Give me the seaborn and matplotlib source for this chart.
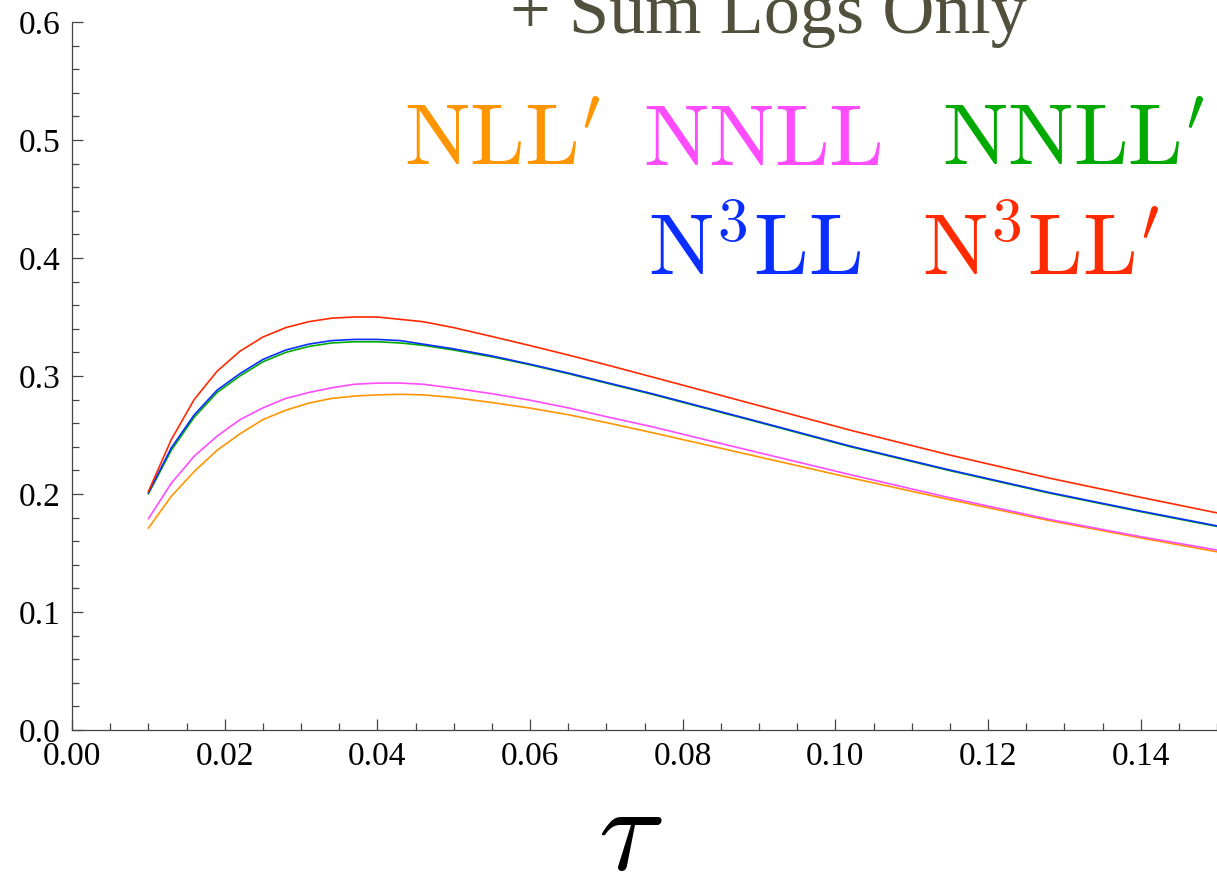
import numpy as np
import pandas as pd
import matplotlib
matplotlib.use("Agg")
import matplotlib.pyplot as plt
from matplotlib.ticker import MultipleLocator, FormatStrFormatter
import seaborn as sns

# ---- data ----
tau = [0.010, 0.013, 0.016, 0.019, 0.022, 0.025, 0.028, 0.031, 0.034, 0.037,
       0.040, 0.043, 0.046, 0.050, 0.055, 0.060, 0.065, 0.070, 0.076, 0.082,
       0.090, 0.102, 0.115, 0.128, 0.140, 0.150]

nll_p = [0.171, 0.198, 0.219, 0.237, 0.251, 0.263, 0.271, 0.277, 0.281, 0.283,
         0.284, 0.2845, 0.284, 0.2818, 0.2775, 0.2728, 0.2672, 0.2605, 0.252, 0.2432,
         0.2314, 0.2137, 0.1952, 0.1775, 0.1628, 0.151]
nnll = [0.179, 0.209, 0.232, 0.249, 0.263, 0.273, 0.281, 0.286, 0.290, 0.293,
        0.294, 0.294, 0.293, 0.2897, 0.285, 0.2795, 0.273, 0.2655, 0.257, 0.2475,
        0.235, 0.2163, 0.1968, 0.1785, 0.1638, 0.1525]
nnll_p = [0.200, 0.237, 0.265, 0.286, 0.300, 0.312, 0.320, 0.325, 0.328, 0.329,
          0.329, 0.328, 0.326, 0.322, 0.3163, 0.3095, 0.302, 0.294, 0.2845, 0.2743,
          0.2607, 0.240, 0.2198, 0.2008, 0.185, 0.1725]
n3ll = [0.201, 0.239, 0.267, 0.288, 0.302, 0.314, 0.322, 0.327, 0.330, 0.331,
        0.331, 0.330, 0.327, 0.323, 0.317, 0.310, 0.3025, 0.2945, 0.285, 0.2748,
        0.2612, 0.2405, 0.2203, 0.2013, 0.1855, 0.173]
n3ll_p = [0.202, 0.246, 0.280, 0.304, 0.321, 0.333, 0.341, 0.346, 0.349, 0.350,
          0.350, 0.348, 0.346, 0.341, 0.3335, 0.3258, 0.3178, 0.3095, 0.2992, 0.2888,
          0.2749, 0.2540, 0.233, 0.2135, 0.1972, 0.184]

series_names = ["NLL'", "NNLL", "NNLL'", "N3LL", "N3LL'"]
series_values = [nll_p, nnll, nnll_p, n3ll, n3ll_p]
colors = ["#FF9500", "#FF4CFF", "#00AA00", "#0A2EFF", "#FF2A00"]
labels_tex = [r"$\mathrm{NLL}'$", r"$\mathrm{NNLL}$", r"$\mathrm{NNLL}'$",
              r"$\mathrm{N}^{3}\mathrm{LL}$", r"$\mathrm{N}^{3}\mathrm{LL}'$"]

x_ticks = [0.00, 0.02, 0.04, 0.06, 0.08, 0.10, 0.12, 0.14]
y_ticks = [0.0, 0.1, 0.2, 0.3, 0.4, 0.5, 0.6]

df = pd.concat([pd.DataFrame({"tau": tau, "value": v, "series": n})
                for n, v in zip(series_names, series_values)], ignore_index=True)

# ---- style ----
sns.set_style("ticks")
plt.rcParams["font.family"] = ["Liberation Serif", "DejaVu Serif"]
plt.rcParams["mathtext.fontset"] = "cm"

fig = plt.figure(figsize=(12.17, 8.76), dpi=100)
ax = fig.add_axes([72 / 1217, 1 - 730 / 876, 1 - 72 / 1217, (730 - 22) / 876])

sns.lineplot(data=df, x="tau", y="value", hue="series", hue_order=series_names,
             palette=dict(zip(series_names, colors)), linewidth=1.2,
             legend=False, ax=ax, sort=False)

ax.set_xlim(0, 0.15)
ax.set_ylim(0, 0.6)
ax.set_xticks(x_ticks)
ax.set_yticks(y_ticks)
ax.xaxis.set_major_formatter(FormatStrFormatter("%.2f"))
ax.yaxis.set_major_formatter(FormatStrFormatter("%.1f"))
ax.xaxis.set_minor_locator(MultipleLocator(0.005))
ax.yaxis.set_minor_locator(MultipleLocator(0.02))
ax.tick_params(which="both", direction="in", colors="#444444", labelcolor="black",
               labelsize=24, width=0.9)
ax.tick_params(which="major", length=8)
ax.tick_params(axis="x", which="major", pad=8)
ax.tick_params(axis="y", which="major", pad=8)
ax.tick_params(which="minor", length=5)
ax.set_xlabel("")
ax.set_ylabel("")
for s in ["top", "right"]:
    ax.spines[s].set_visible(False)
for s in ["left", "bottom"]:
    ax.spines[s].set_color("#444444")
    ax.spines[s].set_linewidth(0.9)

# title (cut off at the top in the reference)
fig.text(510 / 1217, 1 - 33 / 876, "+ Sum Logs Only", fontsize=52,
         color="#50503C", ha="left", va="baseline")

# coloured legend labels
pos = [(404, 165), (643, 165), (942, 165), (648, 275), (922, 275)]
for (px, py), lab, c in zip(pos, labels_tex, colors):
    fig.text(px / 1217, 1 - py / 876, lab, fontsize=63, color=c,
             ha="left", va="baseline")

# x axis label
fig.text(630 / 1217, 1 - 870 / 876, r"$\tau$", fontsize=88, color="black",
         ha="center", va="baseline")

fig.savefig("out.png", dpi=100)
